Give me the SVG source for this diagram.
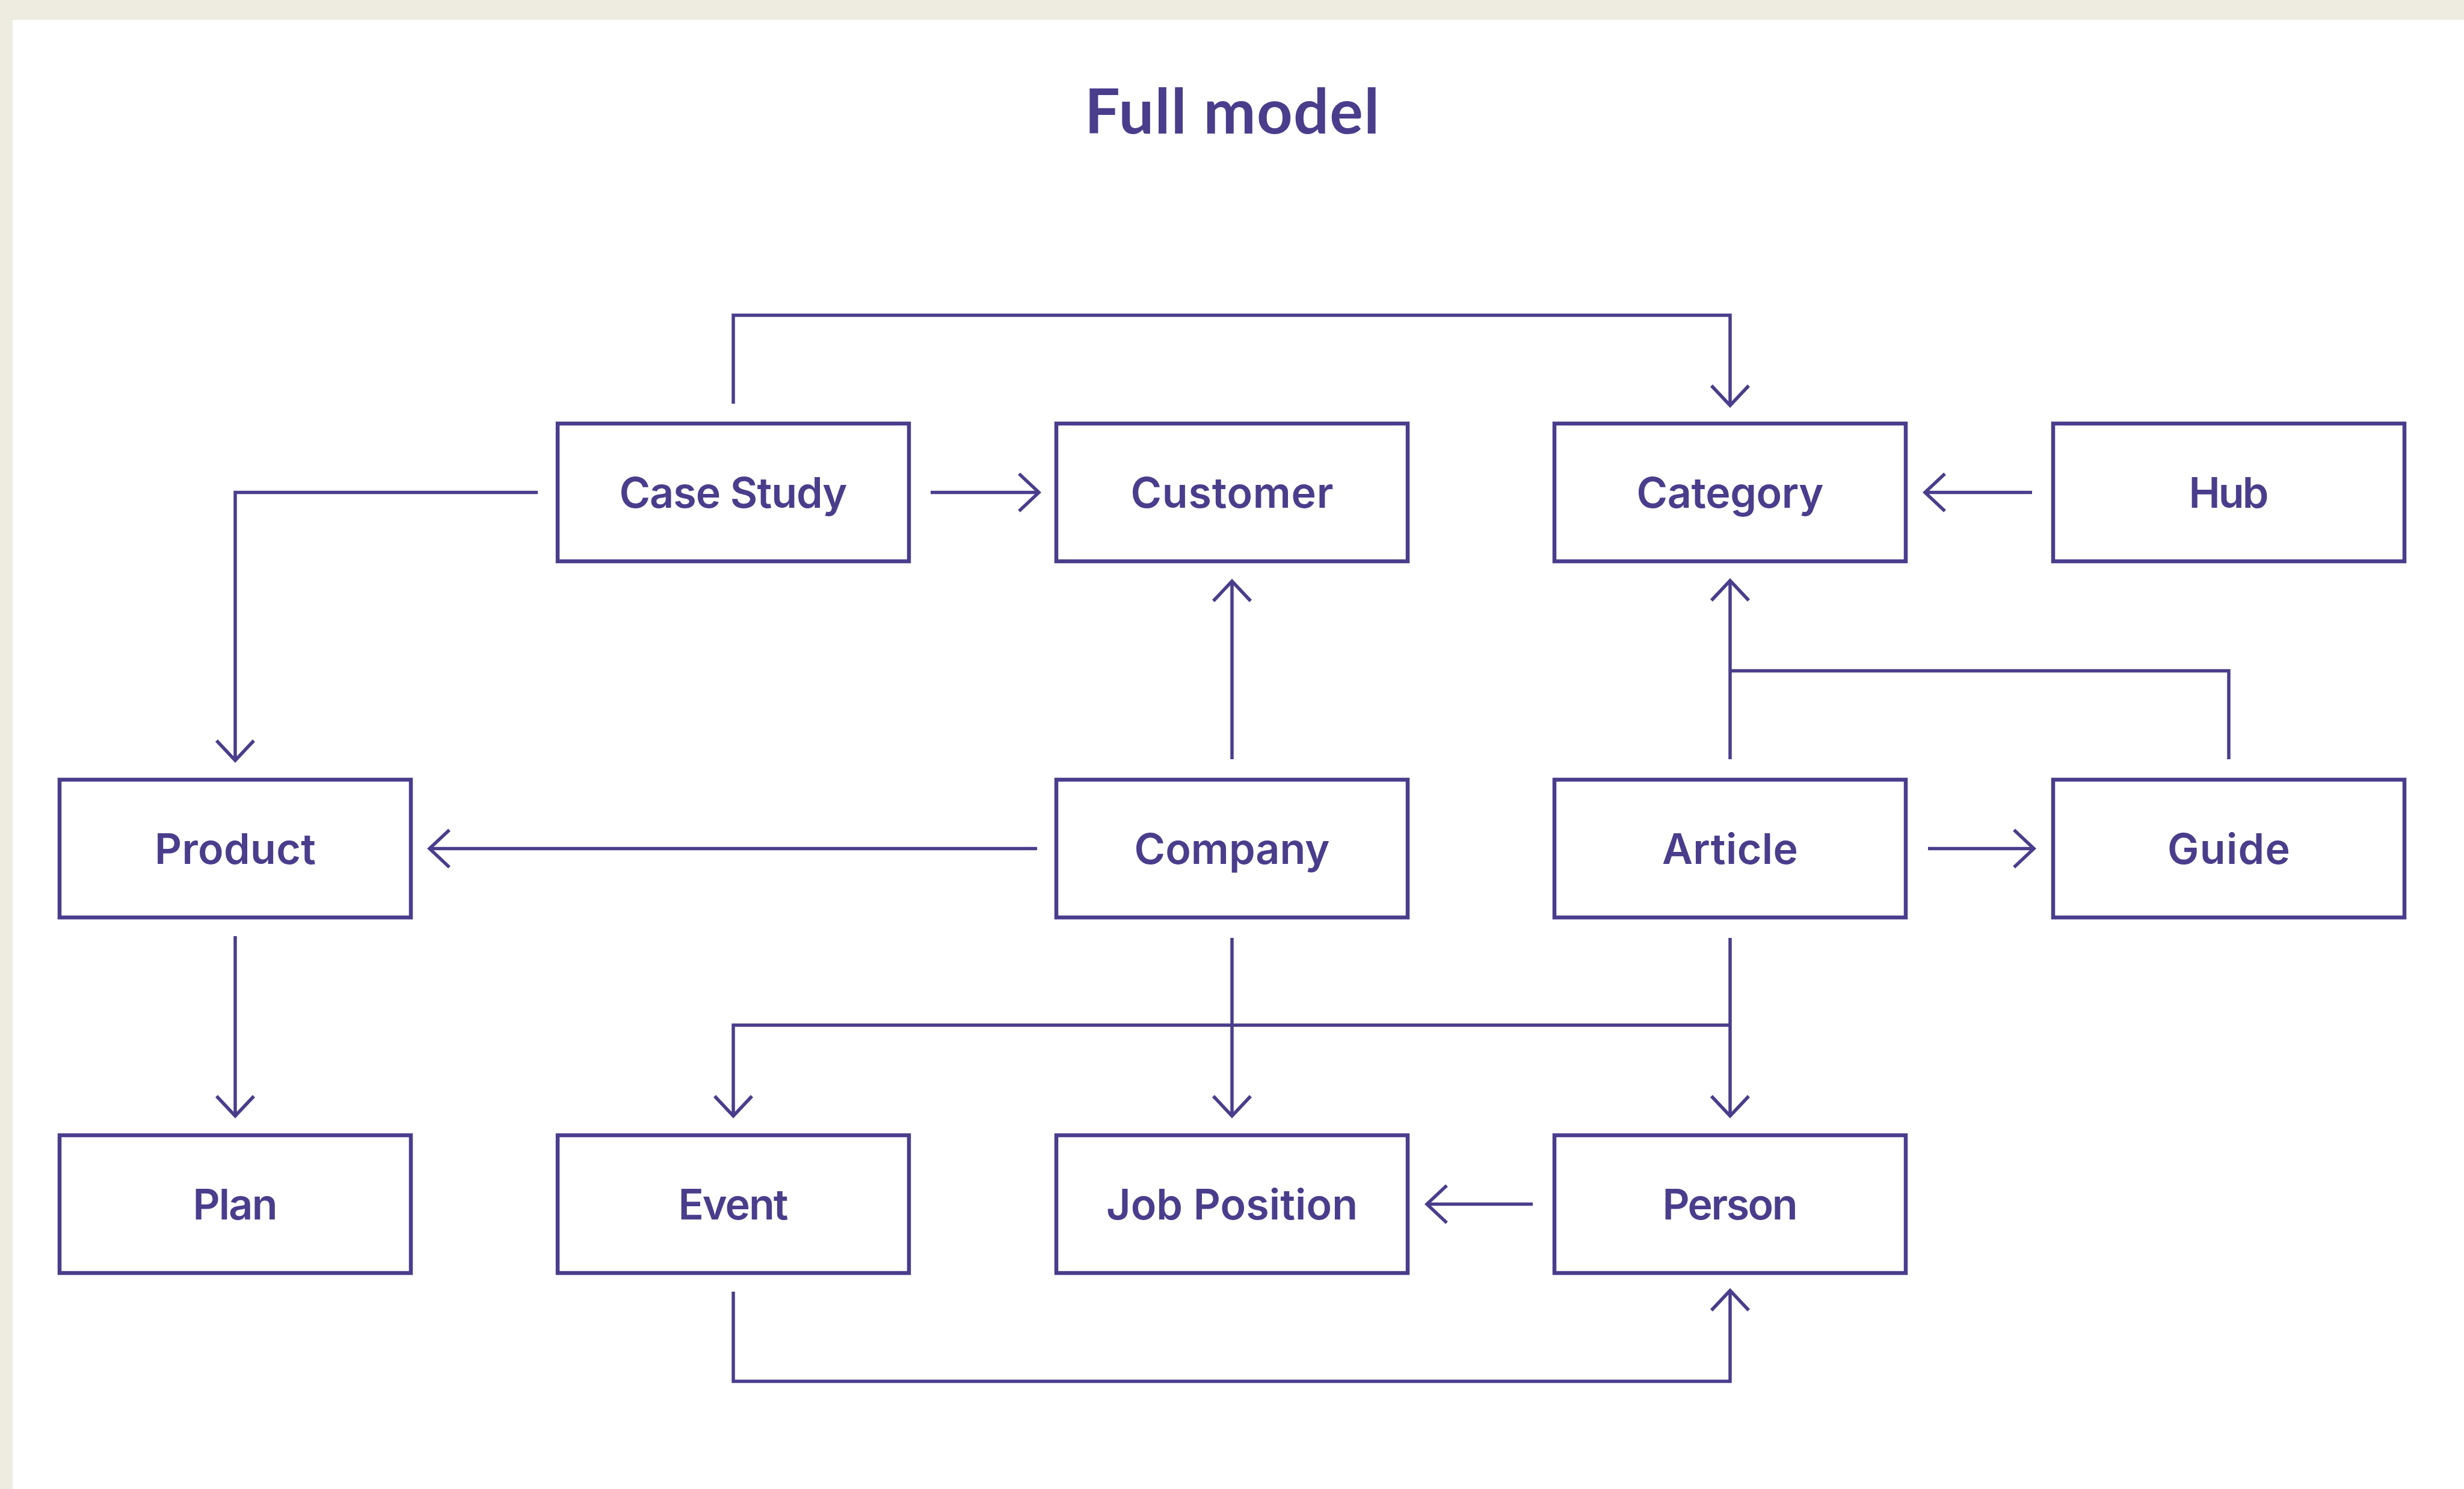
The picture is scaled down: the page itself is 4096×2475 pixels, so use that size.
<svg xmlns="http://www.w3.org/2000/svg" width="4096" height="2475" viewBox="0 0 4096 2475">
  <style>
    .box { fill: #ffffff; stroke: #4a3d8c; stroke-width: 6.5; }
    .lbl { font-family: Inter, "Liberation Sans", sans-serif; font-weight: 600; font-size: 70px; fill: #4a3d8c; text-anchor: middle; }
    .title { font-family: Lato, "Liberation Sans", sans-serif; font-weight: 700; font-size: 104px; fill: #4a3d8c; text-anchor: middle; }
    .edge { fill: none; stroke: #4a3d8c; stroke-width: 5.5; marker-end: url(#arr); }
    .plain { fill: none; stroke: #4a3d8c; stroke-width: 5.5; }
  </style>
  <defs>
    <marker id="arr" markerUnits="userSpaceOnUse" viewBox="-40 -40 50 80" refX="0" refY="0" markerWidth="50" markerHeight="80" orient="auto" overflow="visible">
      <path d="M-33,-31 L0,0 L-33,31" fill="none" stroke="#4a3d8c" stroke-width="5.5"/>
    </marker>
  </defs>

  <!-- page -->
  <rect x="0" y="0" width="4096" height="2475" fill="#eeebe1"/>
  <rect x="21" y="33" width="4075" height="2442" fill="#ffffff"/>

  <text class="title" x="2048" y="222" textLength="490">Full model</text>

  <!-- connectors -->
  <g id="connectors">
    <path class="edge" d="M1219,671 V524 H2876 V674"/>
    <path class="edge" d="M894,818.5 H391 V1264"/>
    <path class="edge" d="M1547,818.5 H1727"/>
    <path class="edge" d="M3378,818.5 H3200"/>
    <path class="edge" d="M2048,1262 V966"/>
    <path class="edge" d="M2876,1262 V965"/>
    <path class="plain" d="M3705,1262 V1115 H2876"/>
    <path class="edge" d="M1724,1410.5 H714"/>
    <path class="edge" d="M3205,1410.5 H3381"/>
    <path class="edge" d="M391,1556 V1855"/>
    <path class="edge" d="M2048,1559 V1855"/>
    <path class="edge" d="M2876,1559 V1855"/>
    <path class="edge" d="M2876,1704 H1219 V1855"/>
    <path class="edge" d="M2548,2001.5 H2372"/>
    <path class="edge" d="M1219,2147 V2296 H2876 V2145"/>
  </g>

  <!-- row 1 -->
  <g id="case-study"><rect class="box" x="927" y="704" width="584" height="229"/><text class="lbl" x="1219" y="844" textLength="379">Case Study</text></g>
  <g id="customer"><rect class="box" x="1756" y="704" width="584" height="229"/><text class="lbl" x="2048" y="844" textLength="337">Customer</text></g>
  <g id="category"><rect class="box" x="2584" y="704" width="584" height="229"/><text class="lbl" x="2876" y="844" textLength="311">Category</text></g>
  <g id="hub"><rect class="box" x="3413" y="704" width="584" height="229"/><text class="lbl" x="3705" y="844" textLength="133">Hub</text></g>

  <!-- row 2 -->
  <g id="product"><rect class="box" x="99" y="1296" width="584" height="229"/><text class="lbl" x="391" y="1436" textLength="268">Product</text></g>
  <g id="company"><rect class="box" x="1756" y="1296" width="584" height="229"/><text class="lbl" x="2048" y="1436" textLength="325">Company</text></g>
  <g id="article"><rect class="box" x="2584" y="1296" width="584" height="229"/><text class="lbl" x="2876" y="1436" textLength="226">Article</text></g>
  <g id="guide"><rect class="box" x="3413" y="1296" width="584" height="229"/><text class="lbl" x="3705" y="1436" textLength="204">Guide</text></g>

  <!-- row 3 -->
  <g id="plan"><rect class="box" x="99" y="1887" width="584" height="229"/><text class="lbl" x="391" y="2027" textLength="141">Plan</text></g>
  <g id="event"><rect class="box" x="927" y="1887" width="584" height="229"/><text class="lbl" x="1219" y="2027" textLength="183">Event</text></g>
  <g id="job-position"><rect class="box" x="1756" y="1887" width="584" height="229"/><text class="lbl" x="2048" y="2027" textLength="418">Job Position</text></g>
  <g id="person"><rect class="box" x="2584" y="1887" width="584" height="229"/><text class="lbl" x="2876" y="2027" textLength="225">Person</text></g>
</svg>
